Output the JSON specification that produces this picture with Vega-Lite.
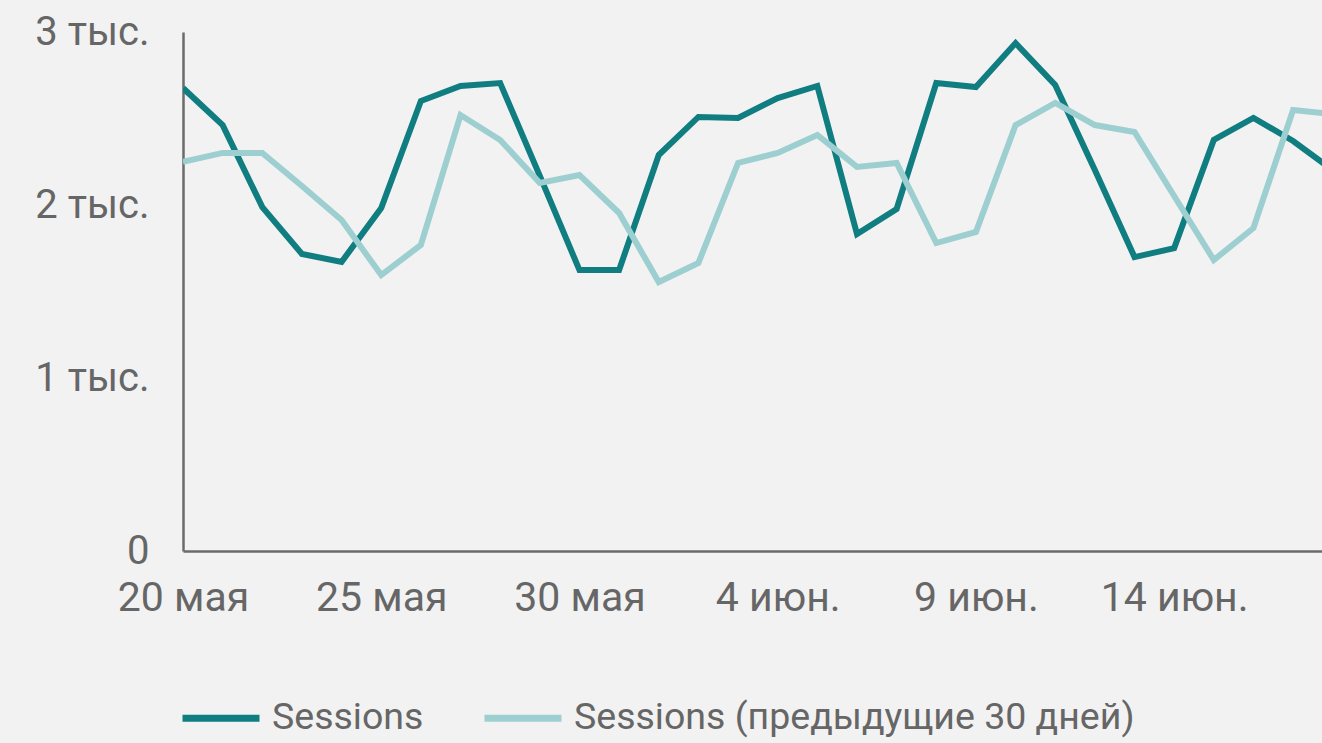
{
  "$schema": "https://vega.github.io/schema/vega-lite/v6.json",
  "width": 1139,
  "height": 519,
  "autosize": {"type": "none"},
  "padding": {"left": 183, "top": 32, "right": 0, "bottom": 192},
  "background": "#f2f2f2",
  "config": {
    "view": {"stroke": null},
    "font": "Roboto",
    "axis": {"labelFont": "Roboto", "labelColor": "#666666", "domainColor": "#6b6b6b", "domainWidth": 2.5, "grid": false, "ticks": false, "title": null},
    "legend": {"labelFont": "Roboto"}
  },
  "data": {
    "values": [
      {"date": "2019-05-20", "series": "Sessions", "value": 2676},
      {"date": "2019-05-21", "series": "Sessions", "value": 2462},
      {"date": "2019-05-22", "series": "Sessions", "value": 1988},
      {"date": "2019-05-23", "series": "Sessions", "value": 1717},
      {"date": "2019-05-24", "series": "Sessions", "value": 1671},
      {"date": "2019-05-25", "series": "Sessions", "value": 1983},
      {"date": "2019-05-26", "series": "Sessions", "value": 2601},
      {"date": "2019-05-27", "series": "Sessions", "value": 2688},
      {"date": "2019-05-28", "series": "Sessions", "value": 2705},
      {"date": "2019-05-29", "series": "Sessions", "value": 2168},
      {"date": "2019-05-30", "series": "Sessions", "value": 1624},
      {"date": "2019-05-31", "series": "Sessions", "value": 1624},
      {"date": "2019-06-01", "series": "Sessions", "value": 2289},
      {"date": "2019-06-02", "series": "Sessions", "value": 2509},
      {"date": "2019-06-03", "series": "Sessions", "value": 2503},
      {"date": "2019-06-04", "series": "Sessions", "value": 2618},
      {"date": "2019-06-05", "series": "Sessions", "value": 2688},
      {"date": "2019-06-06", "series": "Sessions", "value": 1832},
      {"date": "2019-06-07", "series": "Sessions", "value": 1977},
      {"date": "2019-06-08", "series": "Sessions", "value": 2705},
      {"date": "2019-06-09", "series": "Sessions", "value": 2682},
      {"date": "2019-06-10", "series": "Sessions", "value": 2936},
      {"date": "2019-06-11", "series": "Sessions", "value": 2694},
      {"date": "2019-06-12", "series": "Sessions", "value": 2202},
      {"date": "2019-06-13", "series": "Sessions", "value": 1699},
      {"date": "2019-06-14", "series": "Sessions", "value": 1751},
      {"date": "2019-06-15", "series": "Sessions", "value": 2376},
      {"date": "2019-06-16", "series": "Sessions", "value": 2503},
      {"date": "2019-06-17", "series": "Sessions", "value": 2370},
      {"date": "2019-06-18", "series": "Sessions", "value": 2202},
      {"date": "2019-05-20", "series": "Sessions (предыдущие 30 дней)", "value": 2249},
      {"date": "2019-05-21", "series": "Sessions (предыдущие 30 дней)", "value": 2301},
      {"date": "2019-05-22", "series": "Sessions (предыдущие 30 дней)", "value": 2301},
      {"date": "2019-05-23", "series": "Sessions (предыдущие 30 дней)", "value": 2110},
      {"date": "2019-05-24", "series": "Sessions (предыдущие 30 дней)", "value": 1913},
      {"date": "2019-05-25", "series": "Sessions (предыдущие 30 дней)", "value": 1595},
      {"date": "2019-05-26", "series": "Sessions (предыдущие 30 дней)", "value": 1769},
      {"date": "2019-05-27", "series": "Sessions (предыдущие 30 дней)", "value": 2520},
      {"date": "2019-05-28", "series": "Sessions (предыдущие 30 дней)", "value": 2376},
      {"date": "2019-05-29", "series": "Sessions (предыдущие 30 дней)", "value": 2127},
      {"date": "2019-05-30", "series": "Sessions (предыдущие 30 дней)", "value": 2173},
      {"date": "2019-05-31", "series": "Sessions (предыдущие 30 дней)", "value": 1954},
      {"date": "2019-06-01", "series": "Sessions (предыдущие 30 дней)", "value": 1555},
      {"date": "2019-06-02", "series": "Sessions (предыдущие 30 дней)", "value": 1665},
      {"date": "2019-06-03", "series": "Sessions (предыдущие 30 дней)", "value": 2243},
      {"date": "2019-06-04", "series": "Sessions (предыдущие 30 дней)", "value": 2301},
      {"date": "2019-06-05", "series": "Sessions (предыдущие 30 дней)", "value": 2405},
      {"date": "2019-06-06", "series": "Sessions (предыдущие 30 дней)", "value": 2220},
      {"date": "2019-06-07", "series": "Sessions (предыдущие 30 дней)", "value": 2243},
      {"date": "2019-06-08", "series": "Sessions (предыдущие 30 дней)", "value": 1780},
      {"date": "2019-06-09", "series": "Sessions (предыдущие 30 дней)", "value": 1844},
      {"date": "2019-06-10", "series": "Sessions (предыдущие 30 дней)", "value": 2462},
      {"date": "2019-06-11", "series": "Sessions (предыдущие 30 дней)", "value": 2590},
      {"date": "2019-06-12", "series": "Sessions (предыдущие 30 дней)", "value": 2462},
      {"date": "2019-06-13", "series": "Sessions (предыдущие 30 дней)", "value": 2422},
      {"date": "2019-06-14", "series": "Sessions (предыдущие 30 дней)", "value": 2052},
      {"date": "2019-06-15", "series": "Sessions (предыдущие 30 дней)", "value": 1682},
      {"date": "2019-06-16", "series": "Sessions (предыдущие 30 дней)", "value": 1867},
      {"date": "2019-06-17", "series": "Sessions (предыдущие 30 дней)", "value": 2549},
      {"date": "2019-06-18", "series": "Sessions (предыдущие 30 дней)", "value": 2526}
    ]
  },
  "mark": {"type": "line", "strokeWidth": 6, "clip": true, "strokeJoin": "miter", "strokeCap": "butt"},
  "encoding": {
    "x": {
      "field": "date",
      "type": "temporal",
      "scale": {
        "type": "utc",
        "domain": [
          {"year": 2019, "month": 5, "date": 20, "utc": true},
          {"year": 2019, "month": 6, "date": 17, "hours": 17, "minutes": 30, "utc": true}
        ]
      },
      "axis": {
        "values": [
          {"year": 2019, "month": 5, "date": 20, "utc": true},
          {"year": 2019, "month": 5, "date": 25, "utc": true},
          {"year": 2019, "month": 5, "date": 30, "utc": true},
          {"year": 2019, "month": 6, "date": 4, "utc": true},
          {"year": 2019, "month": 6, "date": 9, "utc": true},
          {"year": 2019, "month": 6, "date": 14, "utc": true}
        ],
        "labelExpr": "utcdate(datum.value) + (utcmonth(datum.value) == 4 ? ' мая' : ' июн.')",
        "labelFontSize": 41,
        "labelPadding": 27,
        "labelFlush": false,
        "labelOverlap": false
      }
    },
    "y": {
      "field": "value",
      "type": "quantitative",
      "scale": {"domain": [0, 3000], "nice": false, "zero": true},
      "axis": {
        "values": [0, 1000, 2000, 3000],
        "labelExpr": "datum.value == 0 ? '0' : (datum.value / 1000) + ' тыс.'",
        "labelFontSize": 40,
        "labelPadding": 34,
        "labelDy": -2,
        "labelFlush": false
      }
    },
    "color": {
      "field": "series",
      "type": "nominal",
      "scale": {"domain": ["Sessions", "Sessions (предыдущие 30 дней)"], "range": ["#107d80", "#9dcfd1"]},
      "legend": {
        "title": null,
        "orient": "none",
        "direction": "horizontal",
        "legendX": -4,
        "legendY": 644,
        "symbolType": "stroke",
        "symbolSize": 5929,
        "symbolStrokeWidth": 7,
        "labelFontSize": 37.5,
        "labelColor": "#666666",
        "labelOffset": 9,
        "columnPadding": 46,
        "labelLimit": 800
      }
    }
  }
}
